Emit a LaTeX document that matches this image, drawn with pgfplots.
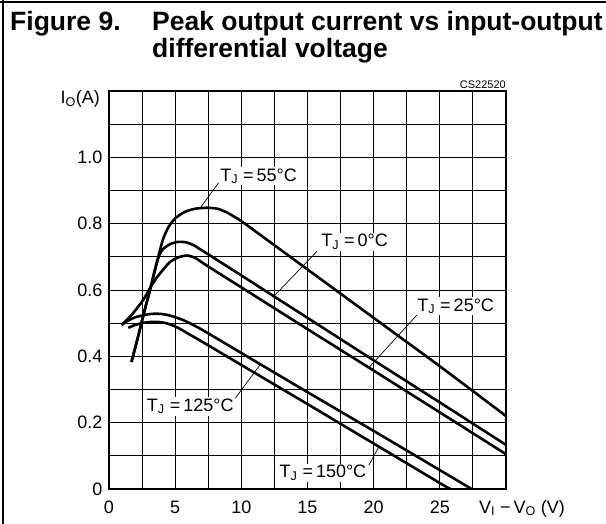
\documentclass[border=0pt]{standalone}
\usepackage{fontspec}
\setmainfont{Liberation Sans}
\usepackage{pgfplots}
\pgfplotsset{compat=1.18}
\begin{document}
\begin{tikzpicture}[x=1pt,y=1pt]
\path[use as bounding box] (0,0) rectangle (606,-524);
\draw[line width=2.5pt] (3,0)--(3,-524);
\draw[line width=2pt] (0,-2)--(606,-2);
\node[anchor=base west,inner sep=0,font=\bfseries\fontsize{26.5}{30}\selectfont] at (10,-31) {Figure 9.};
\node[anchor=base west,inner sep=0,font=\bfseries\fontsize{26.5}{30}\selectfont] at (152,-31) {Peak output current vs input-output};
\node[anchor=base west,inner sep=0,font=\bfseries\fontsize{26.5}{30}\selectfont] at (152,-58) {differential voltage};
\begin{axis}[
  at={(109pt,-489pt)}, anchor=south west,
  scale only axis, width=397pt, height=398pt,
  xmin=0, xmax=30, ymin=0, ymax=1.2,
  xtick={0,5,10,15,20,25}, xticklabels={0,5,10,15,20,25},
  minor xtick={2.5,7.5,12.5,17.5,22.5,27.5},
  ytick={0,0.2,0.4,0.6,0.8,1.0}, yticklabels={0,0.2,0.4,0.6,0.8,1.0},
  minor ytick={0.1,0.3,0.5,0.7,0.9,1.1},
  grid=both,
  major grid style={black, line width=1pt},
  minor grid style={black, line width=1pt},
  major tick length=0pt, minor tick length=0pt,
  axis line style={line width=2pt},
  tick label style={font=\fontsize{18}{20}\selectfont},
  xticklabel style={anchor=base, yshift=-24pt},
  yticklabel style={xshift=-3pt},
  clip=true,
]
% TJ = 55 C
\addplot[black, line width=2.6pt, smooth, tension=0.4] coordinates {
 (1.7,0.383) (2.2,0.46) (2.7,0.54) (3.1,0.60) (3.5,0.665) (3.8,0.712) (4.1,0.755) (4.5,0.790) (5.0,0.816) (5.7,0.835) (6.5,0.845) (7.4,0.848) (8.2,0.845) (8.9,0.834) (9.5,0.82) (10.2,0.802) (15,0.662) (20,0.516) (25,0.37) (30,0.22)};
% TJ = 0 C
\addplot[black, line width=2.6pt, smooth, tension=0.4] coordinates {
 (1.7,0.383) (2.2,0.46) (2.7,0.54) (3.1,0.60) (3.5,0.665) (3.8,0.705) (4.1,0.724) (4.6,0.738) (5.2,0.745) (5.8,0.744) (6.4,0.735) (7.0,0.72) (7.6,0.705) (10,0.644) (15,0.516) (20,0.388) (25,0.261) (30,0.133)};
% TJ = 25 C
\addplot[black, line width=2.6pt, smooth, tension=0.4] coordinates {
 (0.96,0.495) (1.4,0.512) (1.84,0.531) (2.6,0.571) (3.1,0.606) (3.6,0.637) (4.1,0.662) (4.6,0.684) (5.2,0.698) (5.9,0.704) (6.5,0.697) (7.0,0.684) (7.65,0.667) (10,0.608) (15,0.482) (20,0.357) (25,0.231) (30,0.105)};
% TJ = 125 C
\addplot[black, line width=2.6pt, smooth, tension=0.4] coordinates {
 (0.96,0.495) (1.5,0.509) (2.0,0.518) (2.6,0.524) (3.2,0.528) (3.9,0.528) (4.5,0.524) (5.0,0.518) (5.5,0.511) (6.0,0.502) (7,0.481) (10,0.41) (15,0.292) (20,0.175) (25,0.057) (27.4,0)};
% TJ = 150 C
\addplot[black, line width=2.6pt, smooth, tension=0.4] coordinates {
 (1.46,0.486) (2.0,0.495) (2.6,0.501) (3.3,0.504) (3.9,0.503) (4.4,0.499) (4.9,0.492) (5.4,0.482) (6.0,0.468) (7,0.445) (10,0.374) (15,0.256) (20,0.137) (25,0.018) (25.8,0)};
% leaders
\draw[line width=0.7pt] (axis cs:6.9,0.848)--(axis cs:8.28,0.923);
\draw[line width=0.7pt] (axis cs:12.45,0.581)--(axis cs:15.73,0.717);
\draw[line width=0.7pt] (axis cs:19.64,0.366)--(axis cs:23.3,0.526);
\draw[line width=0.7pt] (axis cs:9.55,0.274)--(axis cs:11.44,0.376);
\draw[line width=0.7pt] (axis cs:19.64,0.072)--(axis cs:20.4,0.128);
\end{axis}
\begin{axis}[
  at={(109pt,-489pt)}, anchor=south west,
  scale only axis, width=397pt, height=398pt,
  xmin=0, xmax=30, ymin=0, ymax=1.2, hide axis, clip=false]
\tikzset{lab/.style={fill=white, inner sep=1.5pt, font=\fontsize{18}{20}\selectfont}}
\node[lab] at (axis cs:11.3,0.943) {T\textsubscript{J}\;=\,55°C};
\node[lab] at (axis cs:18.56,0.745) {T\textsubscript{J}\;=\,0°C};
\node[lab] at (axis cs:26.2,0.551) {T\textsubscript{J}\;=\,25°C};
\node[lab] at (axis cs:6.14,0.249) {T\textsubscript{J}\;=\,125°C};
\node[lab] at (axis cs:16.17,0.048) {T\textsubscript{J}\;=\,150°C};
\node[anchor=south east, inner sep=0pt, font=\fontsize{11}{13}\selectfont] at (axis cs:30,1.2) [yshift=2pt] {CS22520};
\node[anchor=east, inner sep=0pt, font=\fontsize{18}{20}\selectfont] at (axis cs:0,1.2) [xshift=-9pt, yshift=-8pt] {I\textsubscript{O}(A)};
\node[anchor=base, inner sep=0pt, font=\fontsize{18}{20}\selectfont] at (axis cs:30,0) [xshift=16pt, yshift=-24pt] {V\textsubscript{I}\;−\,V\textsubscript{O}\;(V)};
\end{axis}
\end{tikzpicture}
\end{document}
